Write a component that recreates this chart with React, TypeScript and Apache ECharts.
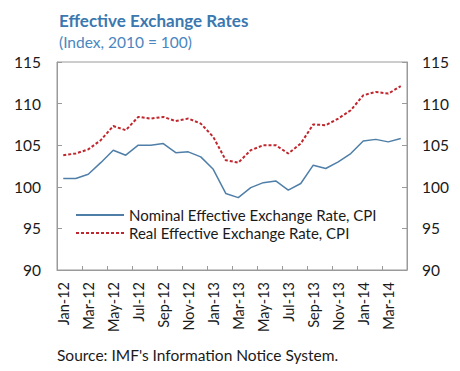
import React, { useEffect, useRef } from "react";
import * as echarts from "echarts";

const categories = [
  "Jan-12", "Feb-12", "Mar-12", "Apr-12", "May-12", "Jun-12", "Jul-12", "Aug-12", "Sep-12", "Oct-12", "Nov-12", "Dec-12",
  "Jan-13", "Feb-13", "Mar-13", "Apr-13", "May-13", "Jun-13", "Jul-13", "Aug-13", "Sep-13", "Oct-13", "Nov-13", "Dec-13",
  "Jan-14", "Feb-14", "Mar-14", "Apr-14",
];
const nominal = [
  101.0, 101.0, 101.5, 102.9, 104.4, 103.8, 105.0, 105.0, 105.2, 104.1, 104.2, 103.6,
  102.1, 99.2, 98.7, 99.9, 100.5, 100.7, 99.6, 100.4, 102.6, 102.2, 103.0, 104.0,
  105.5, 105.7, 105.4, 105.8,
];
const real = [
  103.8, 104.0, 104.5, 105.6, 107.3, 106.8, 108.4, 108.2, 108.4, 107.9, 108.2, 107.6,
  106.0, 103.2, 102.9, 104.4, 105.0, 105.0, 104.0, 105.2, 107.5, 107.4, 108.2, 109.2,
  111.0, 111.4, 111.2, 112.1,
];
const seriesNames = ["Nominal Effective Exchange Rate, CPI", "Real Effective Exchange Rate, CPI"];
const titleText = "Effective Exchange Rates";
const subtitleText = "(Index, 2010 = 100)";
const sourceText = "Source: IMF's Information Notice System.";

const FONT = "Lato, 'Open Sans', sans-serif";

export default function App() {
  const ref = useRef<HTMLDivElement>(null);
  useEffect(() => {
    if (!ref.current) return;
    const chart = echarts.init(ref.current, null, { renderer: "svg" });
    const yAxisCommon = {
      type: "value" as const,
      min: 90,
      max: 115,
      interval: 5,
      splitLine: { show: false },
      axisLine: { show: true, lineStyle: { color: "#9a9a9a", width: 1 } },
      axisTick: { show: true, inside: true, length: 5, lineStyle: { color: "#9a9a9a" } },
      axisLabel: { color: "#1a1a1a", fontSize: 15.5, fontFamily: FONT, margin: 16 },
    };
    chart.setOption({
      animation: false,
      backgroundColor: "#ffffff",
      title: [
        {
          text: titleText,
          left: 59,
          top: 12,
          padding: 0,
          textStyle: { color: "#3b78b0", fontSize: 17, fontWeight: "bold", fontFamily: FONT },
        },
        {
          text: subtitleText,
          left: 59,
          top: 34,
          padding: 0,
          textStyle: { color: "#4a86c0", fontSize: 15.5, fontWeight: "normal", fontFamily: FONT },
        },
        {
          text: sourceText,
          left: 57,
          top: 347,
          padding: 0,
          textStyle: { color: "#1a1a1a", fontSize: 15.5, fontWeight: "normal", fontFamily: FONT },
        },
      ],
      grid: {
        left: 57,
        right: 53,
        top: 62,
        bottom: 101,
        show: true,
        borderColor: "#9a9a9a",
        borderWidth: 1,
        backgroundColor: "transparent",
      },
      legend: {
        orient: "vertical",
        left: 75,
        top: 206,
        padding: 0,
        itemWidth: 48,
        itemHeight: 10,
        itemGap: 0,
        itemStyle: { opacity: 0 },
        textStyle: { color: "#1a1a1a", fontSize: 15, fontFamily: FONT, lineHeight: 18 },
        data: seriesNames,
      },
      xAxis: {
        type: "category",
        data: categories,
        boundaryGap: true,
        axisLine: { show: true, lineStyle: { color: "#9a9a9a" } },
        axisTick: { show: true, inside: true, interval: 1, length: 4, lineStyle: { color: "#9a9a9a" } },
        axisLabel: {
          interval: 1,
          rotate: 90,
          margin: 12,
          padding: [6, 0, 0, 0],
          color: "#1a1a1a",
          fontSize: 14.5,
          fontFamily: FONT,
        },
      },
      yAxis: [
        { ...yAxisCommon, position: "left" },
        { ...yAxisCommon, position: "right", axisLabel: { ...yAxisCommon.axisLabel, margin: 15 } },
      ],
      series: [
        {
          name: seriesNames[0],
          type: "line",
          data: nominal,
          symbol: "none",
          lineStyle: { color: "#4f7fa8", width: 1.5 },
          itemStyle: { color: "#4f7fa8" },
        },
        {
          name: seriesNames[1],
          type: "line",
          data: real,
          symbol: "none",
          lineStyle: { color: "#c0262d", width: 2, type: [3, 2] },
          itemStyle: { color: "#c0262d" },
        },
      ],
    });
    return () => chart.dispose();
  }, []);
  return (
    <div
      ref={ref}
      style={{ position: "fixed", left: 0, top: 0, width: 460, height: 371 }}
    />
  );
}
